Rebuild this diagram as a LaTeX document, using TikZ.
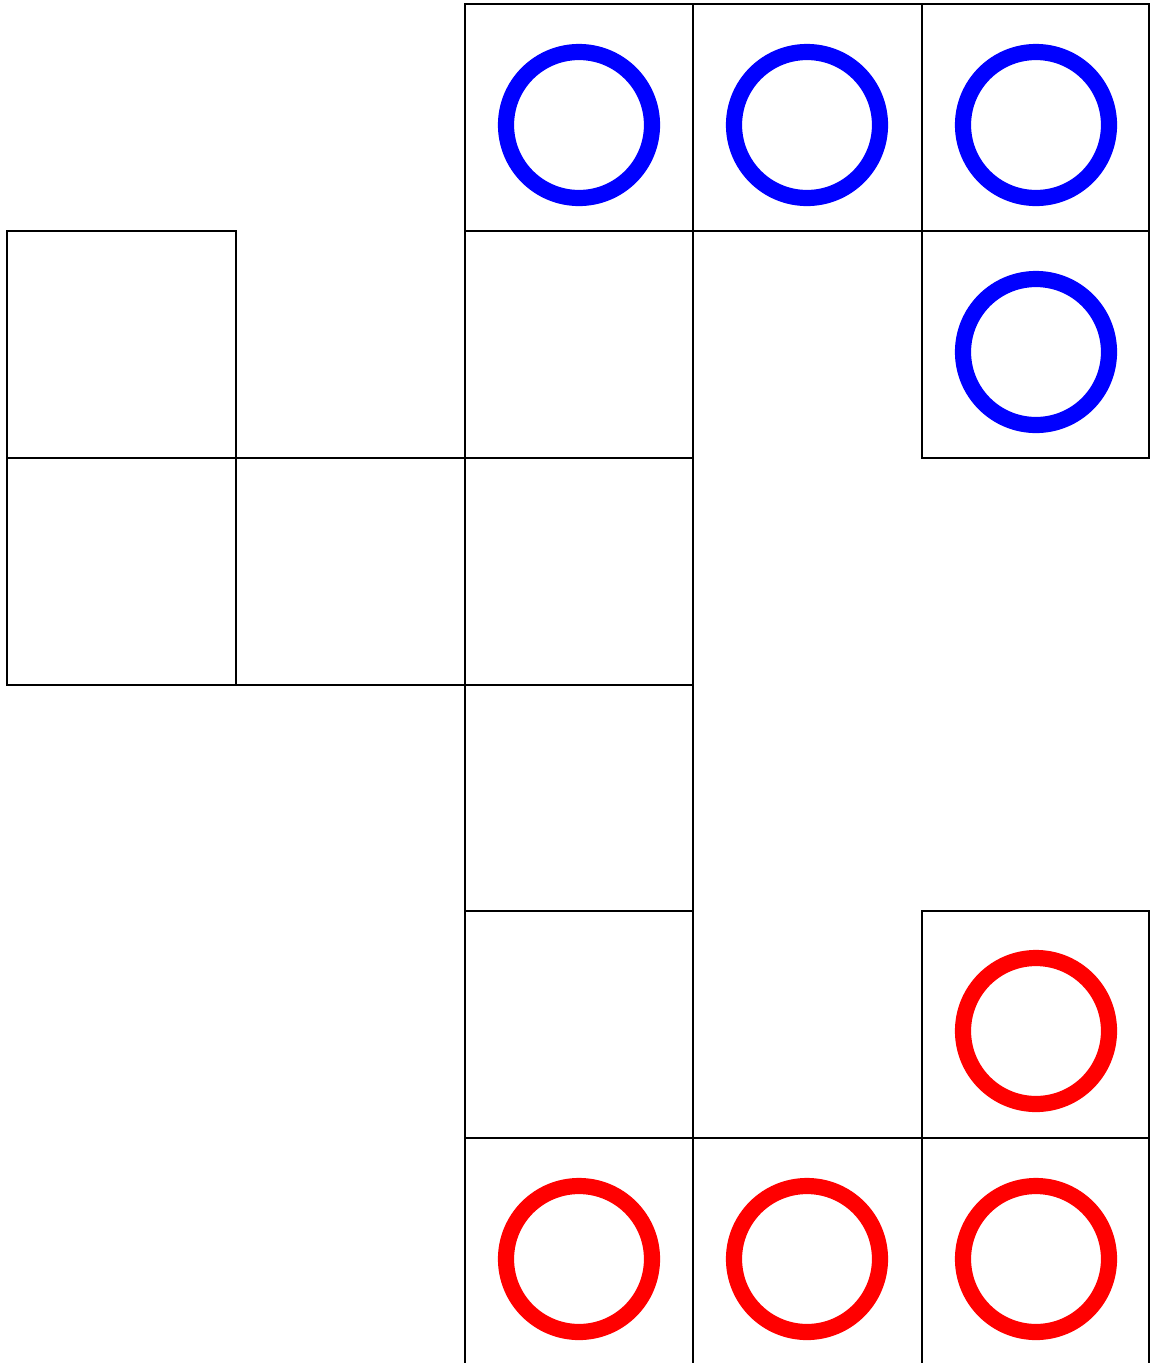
\documentclass[tikz,border=0pt]{standalone}
\usepackage{xcolor}
\usepackage{tikz}

\begin{document}
\begin{tikzpicture}[
    x=0.02cm,y=-0.02cm,
    cell/.style={draw,line width=0.75pt},
    bluemark/.style={draw=blue,line width=9.2pt},
    redmark/.style={draw=red,line width=9.2pt}
  ]
    \useasboundingbox (0,0) rectangle (1150,1363);
    \clip (0,0) rectangle (1150,1363);
    % board cells; the bottom row runs off the lower edge
    \foreach \xa/\ya/\xb/\yb in {465/4/693/231, 693/4/922/231, 922/4/1149/231,
        7/231/236/458, 465/231/693/458, 922/231/1149/458,
        7/458/236/685, 236/458/465/685, 465/458/693/685,
        465/685/693/911,
        465/911/693/1138, 922/911/1149/1138,
        465/1138/693/1390, 693/1138/922/1390, 922/1138/1149/1390}
      \draw[cell] (\xa,\ya) rectangle (\xb,\yb);

    % rings sit a little below the cell centres
    \foreach \cx/\cy in {579/125, 807/125, 1036/125, 1036/352}
      \draw[bluemark] (\cx,\cy) circle (73);
    \foreach \cx/\cy in {1036/1031, 579/1259, 807/1259, 1036/1259}
      \draw[redmark] (\cx,\cy) circle (73);
  \end{tikzpicture}
\end{document}
